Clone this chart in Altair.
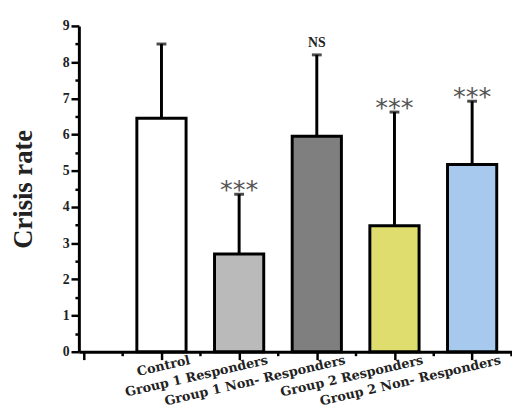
import altair as alt
import pandas as pd

categories = ["Control", "Group 1 Responders", "Group 1 Non- Responders",
              "Group 2 Responders", "Group 2 Non- Responders"]
positions = [1, 2, 3, 4, 5]
means = [6.45, 2.7, 5.95, 3.48, 5.17]
err_tops = [8.5, 4.35, 8.2, 6.62, 6.92]
marks = ["", "***", "NS", "***", "***"]
colors = ["#ffffff", "#bababa", "#7f7f7f", "#dedd6e", "#a8c9ee"]
y_major = list(range(0, 10))
y_minor = [v + 0.5 for v in range(0, 9)]
x_major = list(range(0, 6))
x_minor = [v + 0.5 for v in range(0, 6)]

df = pd.DataFrame({"cat": categories, "pos": positions, "mean": means,
                   "err": err_tops, "mark": marks, "color": colors})

serif = "Liberation Serif"
label_list = "[" + ",".join("'" + c + "'" for c in categories) + "]"
xscale = alt.Scale(domain=[0, 5.45], nice=False, zero=False)
yscale = alt.Scale(domain=[0, 9], nice=False)

x_enc = alt.X("pos:Q", scale=xscale,
              axis=alt.Axis(values=x_major, title=None, grid=False,
                            labelExpr=f"datum.value < 1 ? '' : {label_list}[datum.value - 1]",
                            labelAngle=347, labelAlign="right", labelBaseline="top",
                            labelOffset=27, labelPadding=-6, labelLimit=400,
                            labelFont="DejaVu Serif", labelFontWeight="bold", labelFontSize=13,
                            labelColor="#222", labelOverlap=False, labelBound=False, labelFlush=False,
                            domainColor="black", domainWidth=3, tickColor="black", tickWidth=2.5,
                            tickSize=8))
y_enc = alt.Y("mean:Q", scale=yscale,
              axis=alt.Axis(values=y_major, title="Crisis rate", grid=False,
                            labelOverlap=False, labelBound=False,
                            labelFont=serif, labelFontWeight="bold", labelFontSize=14,
                            labelColor="#222", labelPadding=2,
                            titleFont=serif, titleFontWeight="bold", titleFontSize=27,
                            titleColor="#222", titlePadding=25,
                            domainColor="black", domainWidth=3, tickColor="black", tickWidth=2.5,
                            tickSize=8))

base = alt.Chart(df)
bars = base.mark_bar(size=50, stroke="black", strokeWidth=3).encode(
    x=x_enc, y=y_enc, fill=alt.Fill("color:N", scale=None))
minor = base.mark_point(opacity=0).encode(
    x=alt.X("pos:Q", scale=xscale,
            axis=alt.Axis(values=x_minor, labels=False, domain=False, grid=False, title=None,
                          tickColor="black", tickWidth=2.5, tickSize=4, orient="bottom")),
    y=alt.Y("mean:Q", scale=yscale,
            axis=alt.Axis(values=y_minor, labels=False, domain=False, grid=False, title=None,
                          tickColor="black", tickWidth=2.5, tickSize=4, orient="left")))
rules = base.mark_rule(color="black", strokeWidth=3).encode(
    x=alt.X("pos:Q", axis=None), y=alt.Y("mean:Q", axis=None), y2="err:Q")
caps = base.mark_tick(color="black", thickness=3, size=10, orient="horizontal").encode(
    x=alt.X("pos:Q", axis=None), y=alt.Y("err:Q", axis=None))
stars = base.transform_filter("datum.mark == '***'").mark_text(
    font="DejaVu Sans", fontSize=26, color="#555", dy=-4, baseline="middle").encode(
    x=alt.X("pos:Q", axis=None), y=alt.Y("err:Q", axis=None), text="mark:N")
ns = base.transform_filter("datum.mark == 'NS'").mark_text(
    font=serif, fontWeight="bold", fontSize=14, color="#222", dy=-12, baseline="middle").encode(
    x=alt.X("pos:Q", axis=None), y=alt.Y("err:Q", axis=None), text="mark:N")

chart = alt.layer(bars, rules, caps, stars, ns, minor).resolve_axis(
    x="independent", y="independent"
).properties(
    width=440, height=331,
    autosize=alt.AutoSizeParams(type="none"),
    padding={"left": 72, "top": 15, "right": 0, "bottom": 57},
    background="white"
).configure_view(stroke=None)

chart.save("out.html", embed_options={"renderer": "svg", "actions": False})
